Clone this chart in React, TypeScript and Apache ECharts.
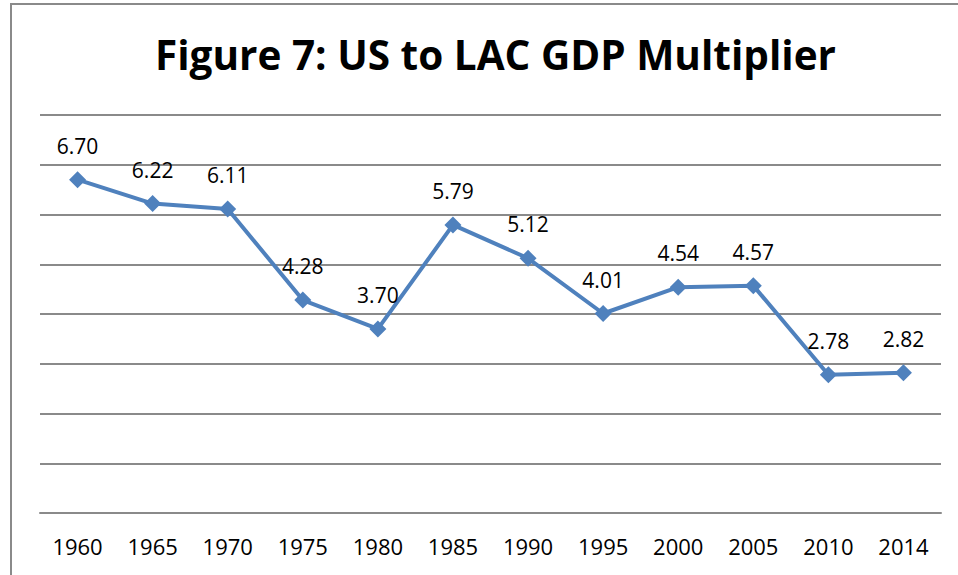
import React, { useEffect, useRef } from "react";
import * as echarts from "echarts";

const years = ["1960", "1965", "1970", "1975", "1980", "1985", "1990", "1995", "2000", "2005", "2010", "2014"];
const multiplier = [6.70, 6.22, 6.11, 4.28, 3.70, 5.79, 5.12, 4.01, 4.54, 4.57, 2.78, 2.82];
const titleText = "Figure 7: US to LAC GDP Multiplier";

export default function App() {
  const ref = useRef<HTMLDivElement>(null);
  useEffect(() => {
    if (!ref.current) return;
    const chart = echarts.init(ref.current, null, { renderer: "svg" });
    chart.setOption({
      animation: false,
      backgroundColor: "#fff",
      title: {
        text: titleText,
        left: 150,
        top: 29,
        textStyle: { fontFamily: "Open Sans", fontWeight: "bold", fontSize: 40.5, color: "#000" },
      },
      graphic: [
        {
          type: "rect",
          shape: { x: 11, y: 4, width: 1000, height: 1000 },
          style: { fill: "none", stroke: "#8a8a8a", lineWidth: 2 },
          silent: true,
        },
      ],
      grid: { left: 40, right: 17, top: 115, bottom: 62 },
      xAxis: {
        type: "category",
        data: years,
        boundaryGap: true,
        axisLine: { show: true, lineStyle: { color: "#8a8a8a", width: 2 } },
        axisTick: { show: false },
        axisLabel: { fontFamily: "Open Sans", fontSize: 22, color: "#000", margin: 22 },
      },
      yAxis: {
        type: "value",
        min: 0,
        max: 8,
        interval: 1,
        axisLine: { show: false },
        axisTick: { show: false },
        axisLabel: { show: false },
        splitLine: { lineStyle: { color: "#8a8a8a", width: 2 } },
      },
      series: [
        {
          type: "line",
          data: multiplier,
          symbol: "diamond",
          symbolSize: 17,
          itemStyle: { color: "#4F81BD" },
          lineStyle: { color: "#4F81BD", width: 4 },
          label: {
            show: true,
            position: "top",
            distance: 15,
            formatter: (p: any) => Number(p.value).toFixed(2),
            fontFamily: "Open Sans",
            fontSize: 21,
            color: "#000",
          },
        },
      ],
    });
    return () => chart.dispose();
  }, []);
  return <div ref={ref} style={{ position: "fixed", left: 0, top: 0, width: 958, height: 575 }} />;
}
